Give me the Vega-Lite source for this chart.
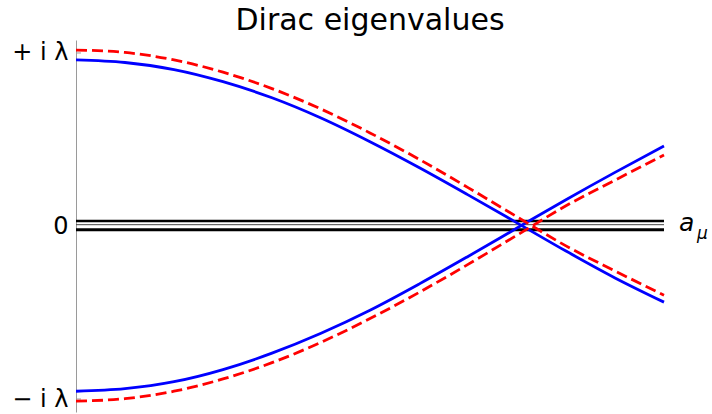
{
  "$schema": "https://vega.github.io/schema/vega-lite/v6.json",
  "width": 588,
  "height": 372,
  "autosize": {"type": "none"},
  "padding": {"left": 76, "top": 40, "right": 48, "bottom": 2},
  "background": "white",
  "config": {"view": {"stroke": null}, "font": "DejaVu Sans"},
  "title": {"text": "Dirac eigenvalues", "fontSize": 30, "fontWeight": "normal", "color": "black", "anchor": "middle", "offset": 4, "font": "DejaVu Sans"},
  "datasets": {
    "ticks": [{"v": 1}, {"v": -1}],
    "curves": [
      {"x": 0, "v": 0.96, "s": "B1"}, {"x": 0.0833, "v": 0.945, "s": "B1"}, {"x": 0.1667, "v": 0.904, "s": "B1"}, {"x": 0.25, "v": 0.834, "s": "B1"}, {"x": 0.3333, "v": 0.741, "s": "B1"}, {"x": 0.4167, "v": 0.624, "s": "B1"}, {"x": 0.5, "v": 0.487, "s": "B1"}, {"x": 0.5833, "v": 0.338, "s": "B1"}, {"x": 0.6667, "v": 0.18, "s": "B1"}, {"x": 0.75, "v": 0.018, "s": "B1"}, {"x": 0.8333, "v": -0.145, "s": "B1"}, {"x": 0.9167, "v": -0.3, "s": "B1"}, {"x": 1, "v": -0.44, "s": "B1"},
      {"x": 0, "v": -0.955, "s": "B2"}, {"x": 0.0833, "v": -0.94, "s": "B2"}, {"x": 0.1667, "v": -0.9, "s": "B2"}, {"x": 0.25, "v": -0.83, "s": "B2"}, {"x": 0.3333, "v": -0.735, "s": "B2"}, {"x": 0.4167, "v": -0.62, "s": "B2"}, {"x": 0.5, "v": -0.487, "s": "B2"}, {"x": 0.5833, "v": -0.336, "s": "B2"}, {"x": 0.6667, "v": -0.176, "s": "B2"}, {"x": 0.75, "v": -0.012, "s": "B2"}, {"x": 0.8333, "v": 0.152, "s": "B2"}, {"x": 0.9167, "v": 0.31, "s": "B2"}, {"x": 1, "v": 0.462, "s": "B2"},
      {"x": 0, "v": 1.017, "s": "R1"}, {"x": 0.0833, "v": 1.003, "s": "R1"}, {"x": 0.1667, "v": 0.96, "s": "R1"}, {"x": 0.25, "v": 0.889, "s": "R1"}, {"x": 0.3333, "v": 0.794, "s": "R1"}, {"x": 0.4167, "v": 0.676, "s": "R1"}, {"x": 0.5, "v": 0.538, "s": "R1"}, {"x": 0.5833, "v": 0.386, "s": "R1"}, {"x": 0.6667, "v": 0.222, "s": "R1"}, {"x": 0.75, "v": 0.053, "s": "R1"}, {"x": 0.8333, "v": -0.115, "s": "R1"}, {"x": 0.9167, "v": -0.26, "s": "R1"}, {"x": 1, "v": -0.4, "s": "R1"},
      {"x": 0, "v": -1.012, "s": "R2"}, {"x": 0.0833, "v": -0.998, "s": "R2"}, {"x": 0.1667, "v": -0.955, "s": "R2"}, {"x": 0.25, "v": -0.884, "s": "R2"}, {"x": 0.3333, "v": -0.79, "s": "R2"}, {"x": 0.4167, "v": -0.672, "s": "R2"}, {"x": 0.5, "v": -0.535, "s": "R2"}, {"x": 0.5833, "v": -0.384, "s": "R2"}, {"x": 0.6667, "v": -0.222, "s": "R2"}, {"x": 0.75, "v": -0.053, "s": "R2"}, {"x": 0.8333, "v": 0.117, "s": "R2"}, {"x": 0.9167, "v": 0.265, "s": "R2"}, {"x": 1, "v": 0.41, "s": "R2"}
    ]
  },
  "data": {"values": [{}]},
  "encoding": {
    "x": {"type": "quantitative", "scale": {"domain": [0, 1], "nice": false, "zero": false}, "axis": null},
    "y": {"type": "quantitative", "scale": {"domain": [-1.075, 1.075], "nice": false, "zero": false}}
  },
  "layer": [
    {
      "mark": {"type": "rule", "color": "black", "strokeWidth": 2.5},
      "encoding": {
        "y": {"datum": 0.029, "type": "quantitative", "axis": {"values": [-1, 0, 1], "title": null, "grid": false, "domainColor": "#9a9a9a", "domainWidth": 1, "ticks": false, "labelPadding": 8, "labelFontSize": 24, "labelColor": "black", "labelFont": "DejaVu Sans", "labelBound": false, "labelFlush": false, "labelOverlap": false, "labelExpr": "datum.value > 0.5 ? '+ i λ' : (datum.value < -0.5 ? '− i λ' : '0')"}}
      }
    },
    {
      "mark": {"type": "rule", "color": "#444444", "strokeWidth": 1},
      "encoding": {"y": {"datum": 0.0075, "type": "quantitative"}}
    },
    {
      "mark": {"type": "rule", "color": "black", "strokeWidth": 3},
      "encoding": {"y": {"datum": -0.0214, "type": "quantitative"}}
    },
    {
      "data": {"name": "ticks"},
      "mark": {"type": "rule", "color": "#9a9a9a", "strokeWidth": 1},
      "encoding": {"x": {"datum": 0, "type": "quantitative"}, "x2": {"datum": 0.0085}, "y": {"field": "v", "type": "quantitative"}}
    },
    {
      "data": {"name": "curves"},
      "transform": [{"filter": "datum.s == 'B1' || datum.s == 'B2'"}],
      "mark": {"type": "line", "color": "#0000ff", "strokeWidth": 2.8, "interpolate": "monotone"},
      "encoding": {"x": {"field": "x", "type": "quantitative"}, "y": {"field": "v", "type": "quantitative"}, "detail": {"field": "s"}}
    },
    {
      "data": {"name": "curves"},
      "transform": [{"filter": "datum.s == 'R1' || datum.s == 'R2'"}],
      "mark": {"type": "line", "color": "#ff0000", "strokeWidth": 2.8, "strokeDash": [11, 5], "interpolate": "monotone"},
      "encoding": {"x": {"field": "x", "type": "quantitative"}, "y": {"field": "v", "type": "quantitative"}, "detail": {"field": "s"}}
    },
    {
      "mark": {"type": "text", "text": "a", "fontSize": 25, "fontStyle": "italic", "align": "left", "baseline": "alphabetic", "color": "black"},
      "encoding": {"x": {"datum": 1.0255, "type": "quantitative"}, "y": {"datum": -0.029, "type": "quantitative"}}
    },
    {
      "mark": {"type": "text", "text": "μ", "fontSize": 17, "fontStyle": "italic", "align": "left", "baseline": "alphabetic", "color": "black"},
      "encoding": {"x": {"datum": 1.056, "type": "quantitative"}, "y": {"datum": -0.075, "type": "quantitative"}}
    }
  ]
}
